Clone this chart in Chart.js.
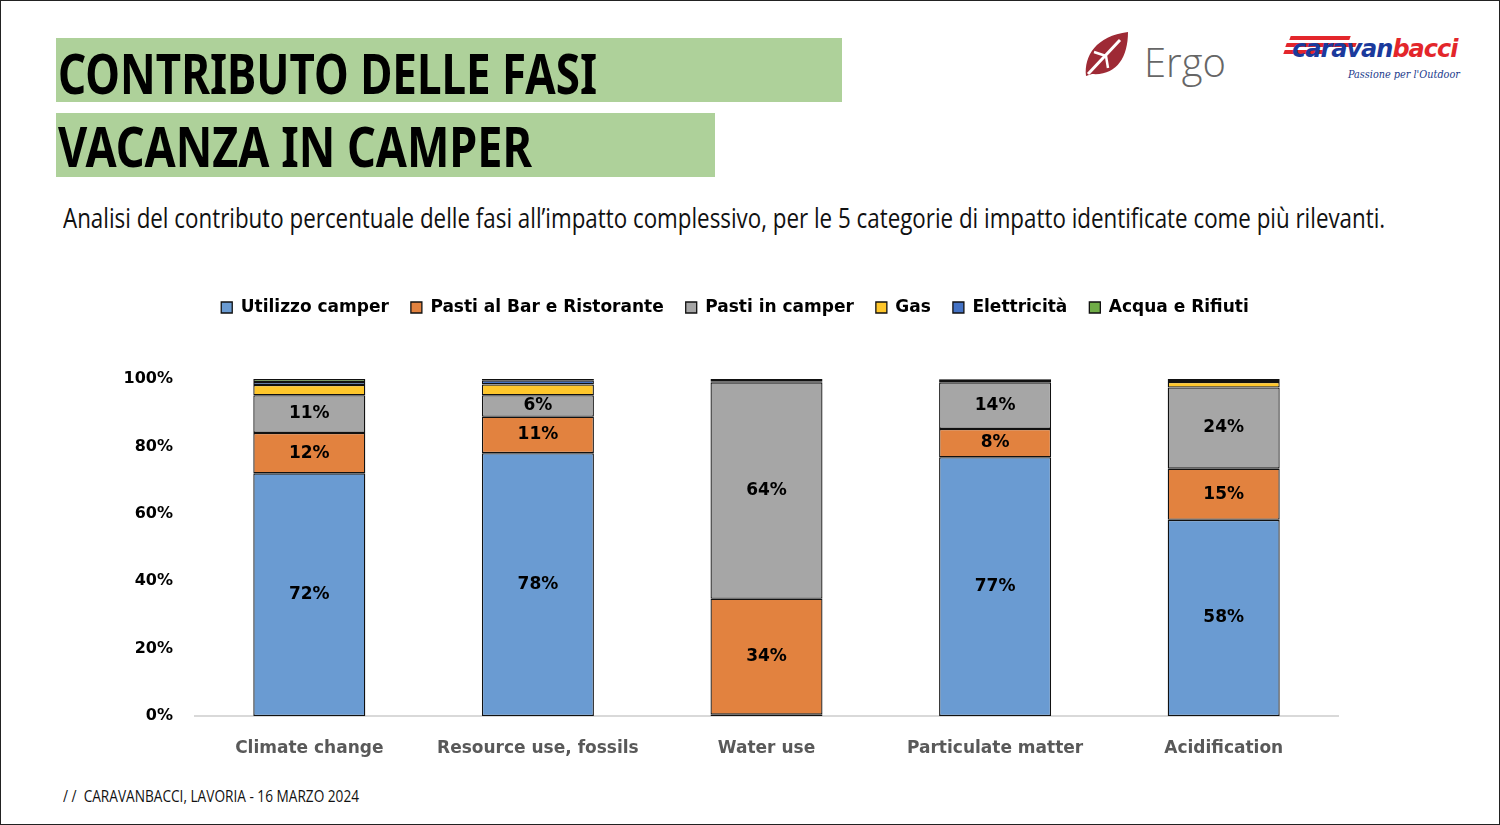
<!DOCTYPE html>
<html>
<head>
<meta charset="utf-8">
<script src="https://cdn.jsdelivr.net/npm/chart.js@4.4.1/dist/chart.umd.min.js"></script>
<style>
  html, body { margin: 0; padding: 0; }
  body { width: 1500px; height: 825px; position: relative; background: #fff; overflow: hidden; }
  .frame { position: absolute; left: 0; top: 0; width: 1498px; height: 823px; border: 1px solid #222; }
  .band { position: absolute; background: #AED19A; }
  .stretta { transform-origin: 0 0; }
  .titolo { position: absolute; font-family: "Noto Sans", sans-serif; font-weight: bold; font-size: 56px; color: #000; line-height: 1; white-space: nowrap; }
  .sottotitolo { position: absolute; left: 63px; top: 199px; font-family: "Open Sans", sans-serif; font-size: 27px; color: #111; white-space: nowrap; }
  .footer { position: absolute; left: 63px; top: 785px; font-family: "Open Sans", sans-serif; font-size: 16px; color: #111; white-space: nowrap; }
  .ergo { position: absolute; left: 1082px; top: 30px; }
  .ergo span { position: absolute; left: 62px; top: 4px; font-family: "Open Sans", sans-serif; font-weight: 300; font-size: 40px; color: #666; }
  .cb { position: absolute; left: 1284px; top: 34px; width: 182px; height: 56px; }
  .cb .s { position: absolute; height: 4px; background: #E3262B; transform: skewX(-20deg); }
  .cb .t { position: absolute; left: 8px; top: 1px; font-family: "DejaVu Sans", sans-serif; font-weight: bold; font-style: italic; font-size: 24px; letter-spacing: -1px; }
  .cb .p { position: absolute; left: 64px; top: 34px; font-family: "DejaVu Serif", serif; font-style: italic; font-size: 11px; color: #1B3A8C; white-space: nowrap; }
  #wrap { position: absolute; left: 100px; top: 270px; width: 1300px; height: 496px; }
</style>
</head>
<body>
<div class="frame"></div>
<div class="band" style="left:56px;top:38px;width:786px;height:64px;"></div>
<div class="band" style="left:56px;top:113px;width:659px;height:64px;"></div>
<div class="titolo stretta" data-w="539" style="left:58px;top:44px;">CONTRIBUTO DELLE FASI</div>
<div class="titolo stretta" data-w="474" style="left:58px;top:117px;">VACANZA IN CAMPER</div>
<div class="sottotitolo stretta" data-w="1322">Analisi del contributo percentuale delle fasi all’impatto complessivo, per le 5 categorie di impatto identificate come più rilevanti.</div>

<div class="ergo">
  <svg width="50" height="50" viewBox="0 0 50 50">
    <path d="M4 46 C2 26 14 6 46 2 C46 28 34 46 10 44 Z" fill="#9E2A35"/>
    <path d="M6 44 L38 10" stroke="#fff" stroke-width="3"/>
    <path d="M24 26 L12 22 M24 26 L26 38" stroke="#fff" stroke-width="2.5"/>
  </svg>
  <span>Ergo</span>
</div>
<div class="cb">
  <div class="s" style="left:6px;top:2px;width:60px;"></div>
  <div class="s" style="left:2px;top:9px;width:70px;"></div>
  <div class="s" style="left:0px;top:16px;width:40px;"></div>
  <div class="t"><span style="color:#1B3A9C">caravan</span><span style="color:#E3262B">bacci</span></div>
  <div class="p stretta" data-w="112">Passione per l'Outdoor</div>
</div>

<div class="footer stretta" data-w="296">/ /&nbsp; CARAVANBACCI, LAVORIA - 16 MARZO 2024</div>

<div id="wrap"><canvas id="grafico"></canvas></div>

<script>
const categorie = ['Climate change', 'Resource use, fossils', 'Water use', 'Particulate matter', 'Acidification']
const utilizzoCamper = [72, 78, 0.4, 76.8, 58.2]
const pastiBar = [12, 10.8, 34.4, 8.4, 15.2]
const pastiCamper = [11.2, 6.4, 64.2, 13.8, 24.1]
const gas = [3, 3.2, 0.2, 0.4, 1.6]
const elettricita = [0.9, 1.2, 0.2, 0.4, 0.6]
const acquaRifiuti = [0.9, 0.4, 0.6, 0.2, 0.3]
const tickY = [0, 20, 40, 60, 80, 100]

const fontBold = "'DejaVu Sans', sans-serif"

// testi in carattere stretto: comprimo in larghezza
document.querySelectorAll('.stretta').forEach(el => {
    const w = Number(el.dataset.w)
    el.style.transform = 'scaleX(' + (w / el.offsetWidth) + ')'
})

function serie(nome, dati, colore) {
    return {
        label: nome,
        data: dati,
        backgroundColor: colore,
        borderColor: '#111',
        borderWidth: 1.3,
        borderSkipped: false,
        barPercentage: 0.49,
        categoryPercentage: 1
    }
}

// etichette dentro le barre (solo le fasi principali)
const etichette = {
    id: 'etichette',
    afterDatasetsDraw(chart) {
        const ctx = chart.ctx
        ctx.save()
        ctx.font = "bold 17px " + fontBold
        ctx.fillStyle = '#000'
        ctx.textAlign = 'center'
        ctx.textBaseline = 'middle'
        chart.data.datasets.forEach((ds, i) => {
            if (i > 2) return
            chart.getDatasetMeta(i).data.forEach((bar, j) => {
                const v = ds.data[j]
                if (v < 5) return
                ctx.fillText(Math.round(v) + '%', bar.x, (bar.y + bar.base) / 2)
            })
        })
        ctx.restore()
    }
}

// spazio tra legenda e grafico, legenda un po' spostata a destra
const spazioLegenda = {
    id: 'spazioLegenda',
    beforeInit(chart) {
        const fitOrig = chart.legend.fit
        chart.legend.fit = function () {
            fitOrig.bind(chart.legend)()
            this.height += 53
        }
    },
    afterLayout(chart) {
        chart.legend.left += 16
        chart.legend.right += 16
    }
}

const grafico = new Chart(document.getElementById('grafico'), {
    type: 'bar',
    data: {
        labels: categorie,
        datasets: [
            serie('Utilizzo camper', utilizzoCamper, '#6A9BD2'),
            serie('Pasti al Bar e Ristorante', pastiBar, '#E2823F'),
            serie('Pasti in camper', pastiCamper, '#A6A6A6'),
            serie('Gas', gas, '#FFC72C'),
            serie('Elettricità', elettricita, '#4472C4'),
            serie('Acqua e Rifiuti', acquaRifiuti, '#70AD47')
        ]
    },
    options: {
        responsive: true,
        maintainAspectRatio: false,
        animation: false,
        layout: { padding: { right: 62, top: 7 } },
        plugins: {
            legend: {
                position: 'top',
                labels: {
                    boxWidth: 11,
                    boxHeight: 11,
                    padding: 22,
                    color: '#000',
                    font: { family: fontBold, weight: 'bold', size: 17 }
                }
            },
            tooltip: { enabled: false }
        },
        scales: {
            x: {
                stacked: true,
                grid: { display: false },
                border: { color: '#D9D9D9', width: 2 },
                ticks: { color: '#595959', padding: 14, font: { family: fontBold, weight: 'bold', size: 17 } },
                afterFit(scale) { scale.height = 50 }
            },
            y: {
                stacked: true,
                min: 0,
                max: 100,
                afterBuildTicks(scale) { scale.ticks = tickY.map(v => ({ value: v })) },
                grid: { display: false },
                border: { display: false },
                ticks: {
                    color: '#000',
                    padding: 14,
                    font: { family: fontBold, weight: 'bold', size: 16 },
                    callback: v => v + '%'
                },
                afterFit(scale) { scale.width = 95 }
            }
        }
    },
    plugins: [etichette, spazioLegenda]
})
</script>
</body>
</html>
